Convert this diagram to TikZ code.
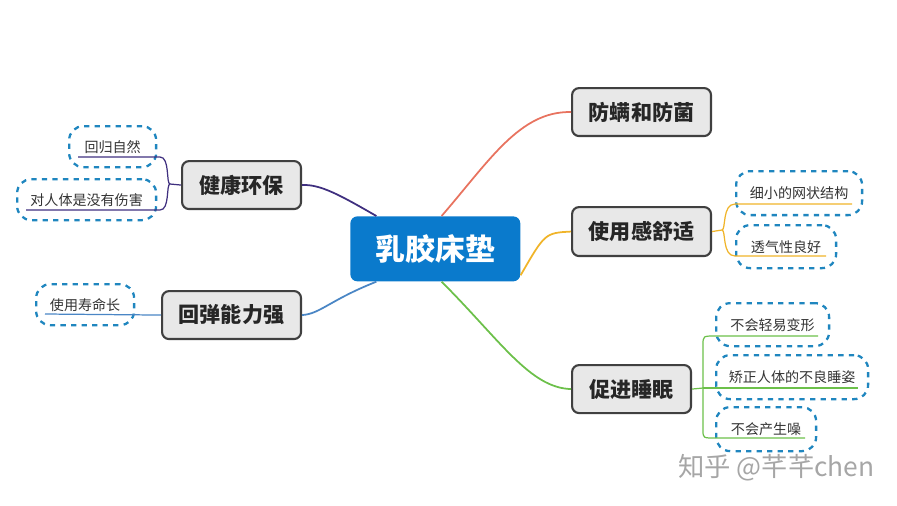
\documentclass[tikz,border=0pt]{standalone}
\usepackage{fontspec}
\setmainfont{Noto Sans CJK SC}
\begin{document}
\begin{tikzpicture}[x=0.02cm,y=-0.02cm,
 mainbox/.style={draw=black!75,line width=1.2pt,fill=black!9,rounded corners=4pt,font=\bfseries\fontsize{12}{14}\selectfont,text=black!85,anchor=north west,inner sep=0pt,align=center},
 subbox/.style={draw=dash,dashed,line width=1.3pt,rounded corners=8pt,font=\fontsize{8}{10}\selectfont,text=black!80,anchor=north west,inner sep=0pt,align=center},
 br/.style={line width=1pt}]
\useasboundingbox (0,0) rectangle (897,505);
\definecolor{cred}{HTML}{E8735F}\definecolor{corg}{HTML}{F0B429}\definecolor{cgrn}{HTML}{6CC04A}
\definecolor{cpur}{HTML}{3F2F7F}\definecolor{cblu}{HTML}{4A86C5}\definecolor{cctr}{HTML}{0A7ACC}
\definecolor{dash}{HTML}{1F86BF}
% central
\node[fill=cctr,rounded corners=4pt,text=white,font=\bfseries\fontsize{17}{20}\selectfont,anchor=north west,inner sep=0pt,minimum width=3.4cm,minimum height=1.3cm] (c) at (350,216) {乳胶床垫};
\node[mainbox,minimum width=2.78cm,minimum height=0.96cm] (a) at (571,87) {防螨和防菌};
\node[mainbox,minimum width=2.78cm,minimum height=0.98cm] (b) at (571,206) {使用感舒适};
\node[mainbox,minimum width=2.38cm,minimum height=0.96cm] (d) at (571,364) {促进睡眠};
\node[mainbox,minimum width=2.38cm,minimum height=0.96cm] (e) at (181,160) {健康环保};
\node[mainbox,minimum width=2.78cm,minimum height=0.96cm] (f) at (161,290) {回弹能力强};
% subs
\node[subbox,minimum width=1.74cm,minimum height=0.82cm] (e1) at (68,125) {回归自然};
\node[subbox,minimum width=2.78cm,minimum height=0.82cm] (e2) at (16,178) {对人体是没有伤害};
\node[subbox,minimum width=1.96cm,minimum height=0.82cm] (f1) at (35,283) {使用寿命长};
\node[subbox,minimum width=2.52cm,minimum height=0.88cm] (b1) at (735,170) {细小的网状结构};
\node[subbox,minimum width=2.0cm,minimum height=0.86cm] (b2) at (735,224) {透气性良好};
\node[subbox,minimum width=2.26cm,minimum height=0.86cm] (d1) at (715,302) {不会轻易变形};
\node[subbox,minimum width=3.04cm,minimum height=0.88cm] (d2) at (715,354) {矫正人体的不良睡姿};
\node[subbox,minimum width=2.0cm,minimum height=0.88cm] (d3) at (715,406) {不会产生噪};
% main connectors
\draw[cred,br] ([xshift=-45pt]c.north east) .. controls (490,160) and (520,111) .. (a.west);
\draw[corg,br] ([yshift=-15pt]c.east) .. controls (545,233) .. (b.west);
\draw[cgrn,br] ([xshift=-45pt]c.south east) .. controls (500,340) and (530,388) .. (d.west);
\draw[cpur,br] ([xshift=15pt]c.north west) .. controls (340,195) and (320,184) .. (e.east);
\draw[cblu,br] ([xshift=15pt]c.south west) .. controls (330,300) and (320,314) .. (f.east);
% sub connectors
\draw[cpur,line width=0.7pt] (e.west) -- (170,184) coordinate (eb);
\draw[cpur,line width=0.7pt] (eb) .. controls (166,184) and (170,157) .. (160,157) -- (78,157);
\draw[cpur,line width=0.7pt] (eb) .. controls (166,184) and (170,210) .. (160,210) -- (26,210);
\draw[cblu,line width=0.7pt] (f.west) -- (45,314);
\draw[corg,line width=0.7pt] (b.east) -- (722,230) coordinate (bb);
\draw[corg,line width=0.7pt] (bb) .. controls (726,230) and (722,204) .. (735,204) -- (852,204);
\draw[corg,line width=0.7pt] (bb) .. controls (726,230) and (722,256) .. (735,256) -- (826,256);
\draw[cgrn,line width=0.7pt] (d.east) -- (703,388) coordinate (db);
\draw[cgrn,line width=0.7pt] (db) -- (703,345) .. controls (703,336) .. (715,336) -- (818,336);
\draw[cgrn,line width=0.7pt] (db) -- (858,388);
\draw[cgrn,line width=0.7pt] (db) -- (703,430) .. controls (703,438) .. (715,438) -- (805,438);
\node[text=black!35,font=\fontsize{15}{17}\selectfont,anchor=west] (wm) at (672,468) {知乎 @芊芊chen};
\end{tikzpicture}
\end{document}
